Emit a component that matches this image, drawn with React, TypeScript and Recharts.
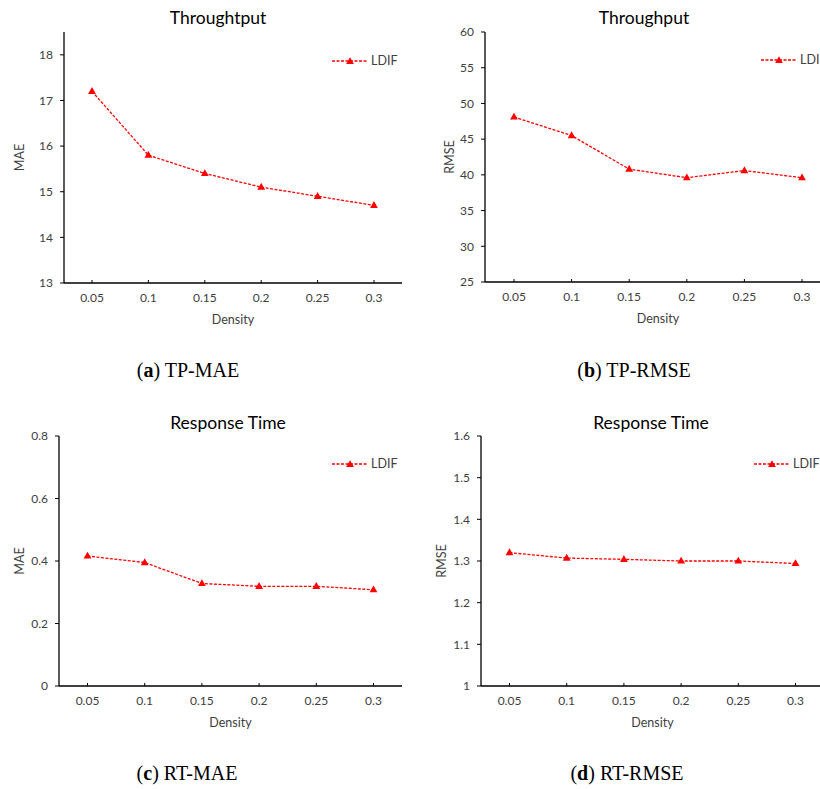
import React from 'react';
import { LineChart, Line, XAxis, YAxis, Legend } from 'recharts';

const densities = ['0.05', '0.1', '0.15', '0.2', '0.25', '0.3'];

const tpMae = [17.2, 15.8, 15.4, 15.1, 14.9, 14.7];
const tpRmse = [48.1, 45.5, 40.8, 39.6, 40.6, 39.6];
const rtMae = [0.416, 0.395, 0.328, 0.319, 0.319, 0.308];
const rtRmse = [1.32, 1.307, 1.304, 1.3, 1.3, 1.294];

const tpMaeTicks = [13, 14, 15, 16, 17, 18];
const tpRmseTicks = [25, 30, 35, 40, 45, 50, 55, 60];
const rtMaeTicks = [0, 0.2, 0.4, 0.6, 0.8];
const rtRmseTicks = [1, 1.1, 1.2, 1.3, 1.4, 1.5, 1.6];

const toRows = (vals: number[]) => densities.map((d, i) => ({ density: d, LDIF: vals[i] }));

const RED = '#ff0000';
const TXT = '#404040';
const FONT = 'Lato, "Open Sans", sans-serif';

const tri = (cx: number, cy: number) =>
    `M${cx},${cy - 4.3}L${cx + 3.9},${cy + 2.6}L${cx - 3.9},${cy + 2.6}Z`;

const panels = [
    {
        id: 'a', sub: 'TP-MAE', title: 'Throughtput', yLabel: 'MAE',
        values: tpMae, ticks: tpMaeTicks, domain: [13, 18.5],
        left: 0, top: 0, width: 410,
        margin: { top: 32, right: 8, left: 20, bottom: 7 }, yLabelOffset: 0, pad: 28,
        titleX: 218, titleY: 17, legend: { left: 332, top: 53 }, capX: 188, capY: 370,
    },
    {
        id: 'b', sub: 'TP-RMSE', title: 'Throughput', yLabel: 'RMSE',
        values: tpRmse, ticks: tpRmseTicks, domain: [25, 60],
        left: 410, top: 0, width: 430,
        margin: { top: 32, right: 9, left: 31, bottom: 8 }, yLabelOffset: 9, pad: 29,
        titleX: 644, titleY: 17, legend: { left: 351, top: 52 }, capX: 634, capY: 370,
    },
    {
        id: 'c', sub: 'RT-MAE', title: 'Response Time', yLabel: 'MAE',
        values: rtMae, ticks: rtMaeTicks, domain: [0, 0.8],
        left: 0, top: 400, width: 410,
        margin: { top: 36, right: 8, left: 15, bottom: 4 }, yLabelOffset: 5, pad: 28.5,
        titleX: 228, titleY: 422, legend: { left: 332, top: 56 }, capX: 187, capY: 773,
    },
    {
        id: 'd', sub: 'RT-RMSE', title: 'Response Time', yLabel: 'RMSE',
        values: rtRmse, ticks: rtRmseTicks, domain: [1, 1.6],
        left: 410, top: 400, width: 430,
        margin: { top: 36, right: 16, left: 27, bottom: 4 }, yLabelOffset: 5, pad: 28.5,
        titleX: 651, titleY: 422, legend: { left: 344, top: 56 }, capX: 627, capY: 773,
    },
];

const LegendContent = () => (
    <div style={{ display: 'flex', alignItems: 'center', fontFamily: FONT, fontSize: 12.5, color: TXT, whiteSpace: 'nowrap' }}>
        <svg width={38} height={12}>
            <line x1={0} y1={6} x2={36} y2={6} stroke={RED} strokeWidth={1.3} strokeDasharray="3 1.5" />
            <path d={tri(18, 6.5)} fill={RED} />
        </svg>
        <span style={{ marginLeft: 1 }}>LDIF</span>
    </div>
);

const Panel = ({ p }: { p: any }) => {
    const data = toRows(p.values);
    return (
        <div style={{ position: 'absolute', left: p.left, top: p.top }}>
            <LineChart width={p.width} height={340} data={data} margin={p.margin}>
                <XAxis
                    dataKey="density"
                    height={50}
                    padding={{ left: p.pad, right: p.pad }}
                    tickSize={-3}
                    tickMargin={13}
                    tick={{ fontSize: 12, fill: TXT, fontFamily: FONT }}
                    tickLine={{ stroke: '#000' }}
                    axisLine={{ stroke: '#000', strokeWidth: 1.3 }}
                    label={{ value: 'Density', position: 'insideBottom', offset: 9, fontSize: 12.5, fill: TXT, fontFamily: FONT }}
                />
                <XAxis
                    xAxisId="top"
                    orientation="top"
                    dataKey="density"
                    height={0}
                    padding={{ left: p.pad, right: p.pad }}
                    tick={false}
                    tickLine={false}
                    axisLine={{ stroke: '#000', strokeWidth: 1.1 }}
                />
                <YAxis
                    type="number"
                    width={44}
                    domain={p.domain}
                    ticks={p.ticks}
                    interval={0}
                    tickSize={4}
                    tickMargin={7}
                    tick={{ fontSize: 12, fill: TXT, fontFamily: FONT }}
                    tickLine={{ stroke: '#000' }}
                    axisLine={{ stroke: '#000', strokeWidth: 1.3 }}
                    label={{
                        value: p.yLabel, angle: -90, position: 'insideLeft', offset: p.yLabelOffset,
                        fontSize: 12.5, fill: TXT, fontFamily: FONT, style: { textAnchor: 'middle' },
                    }}
                />
                <YAxis
                    yAxisId="r"
                    orientation="right"
                    type="number"
                    width={0}
                    domain={p.domain}
                    tick={false}
                    tickLine={false}
                    axisLine={{ stroke: '#000', strokeWidth: 1.1 }}
                />
                <Legend
                    layout="horizontal"
                    verticalAlign="middle"
                    align="center"
                    content={<LegendContent />}
                    wrapperStyle={{ left: p.legend.left, top: p.legend.top, width: 'auto' }}
                />
                <Line
                    type="linear"
                    dataKey="LDIF"
                    stroke={RED}
                    strokeWidth={1.3}
                    strokeDasharray="3 1.5"
                    dot={(d: any) => <path key={`dot-${d.index}`} d={tri(d.cx, d.cy)} fill={RED} />}
                    activeDot={false}
                    isAnimationActive={false}
                />
            </LineChart>
        </div>
    );
};

const App = () => {
    return (
        <div style={{ position: 'absolute', left: 0, top: 0, width: 820, height: 789, overflow: 'hidden', background: '#fff' }}>
            {panels.map((p) => (
                <Panel key={p.id} p={p} />
            ))}
            {panels.map((p) => (
                <div
                    key={`t-${p.id}`}
                    style={{
                        position: 'absolute', left: p.titleX, top: p.titleY, transform: 'translate(-50%, -50%)',
                        fontFamily: FONT, fontSize: 17.5, color: '#000', whiteSpace: 'nowrap',
                    }}
                >
                    {p.title}
                </div>
            ))}
            {panels.map((p) => (
                <div
                    key={`c-${p.id}`}
                    style={{
                        position: 'absolute', left: p.capX, top: p.capY, transform: 'translate(-50%, -50%)',
                        fontFamily: '"Liberation Serif", serif', fontSize: 20, color: '#000', whiteSpace: 'nowrap',
                    }}
                >
                    (<b>{p.id}</b>) {p.sub}
                </div>
            ))}
        </div>
    );
};

export default App;
